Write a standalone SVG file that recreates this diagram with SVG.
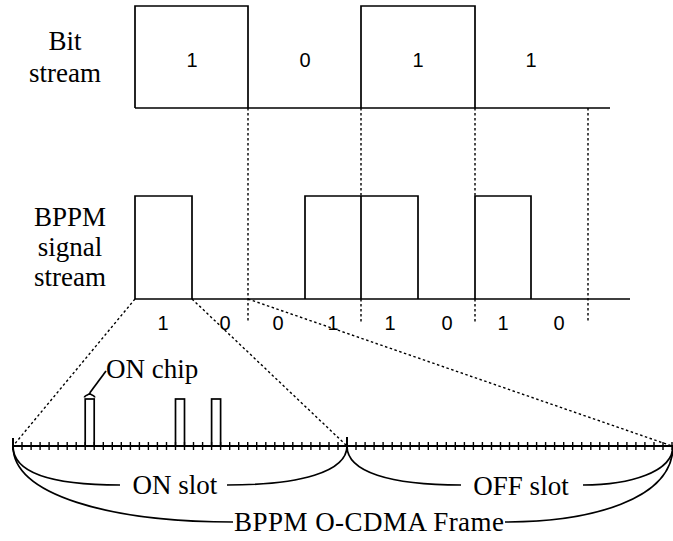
<svg xmlns="http://www.w3.org/2000/svg" width="673" height="541" viewBox="0 0 673 541">
<style>
.sig{fill:none;stroke:#000;stroke-width:1.7;stroke-linejoin:miter}
.dot{fill:none;stroke:#000;stroke-width:1.4;stroke-dasharray:2.5 2.5}
.ax{fill:none;stroke:#000;stroke-width:2}
.tk{fill:none;stroke:#000;stroke-width:1.4}
.br{fill:none;stroke:#000;stroke-width:1.7}
.lbl{font-family:'Liberation Serif','DejaVu Serif',serif;font-size:27px;fill:#000;text-anchor:middle}
.dig{font-family:'Liberation Sans','DejaVu Sans',sans-serif;font-size:20px;fill:#000;text-anchor:middle}
</style>
<rect width="673" height="541" fill="#fff"/>
<g id="labels">
<text class="lbl" x="65" y="50">Bit</text>
<text class="lbl" x="65" y="82">stream</text>
<text class="lbl" x="70" y="226">BPPM</text>
<text class="lbl" x="70" y="256">signal</text>
<text class="lbl" x="70" y="286">stream</text>
</g>
<g id="bit-stream">
<path class="sig" d="M135,108 H610 M135,108 V6 H248 V108 M361,108 V6 H475 V108"/>
<text class="dig" x="192" y="67">1</text>
<text class="dig" x="305" y="67">0</text>
<text class="dig" x="418" y="67">1</text>
<text class="dig" x="531" y="67">1</text>
</g>
<g id="bppm-stream">
<path class="sig" d="M135,299 H630 M135,299 V196 H192 V299 M305,299 V196 H418 V299 M361,196 V299 M475,299 V196 H531 V299"/>
<text class="dig" x="163" y="330">1</text>
<text class="dig" x="225" y="330">0</text>
<text class="dig" x="278" y="330">0</text>
<text class="dig" x="333" y="330">1</text>
<text class="dig" x="390" y="330">1</text>
<text class="dig" x="447" y="330">0</text>
<text class="dig" x="503" y="330">1</text>
<text class="dig" x="559" y="330">0</text>
</g>
<g id="frame">
<path class="ax" d="M13,446 H673"/>
<path class="tk" d="M22,442v8M31.1,442v8M40.1,442v8M49.1,442v8M58.1,442v8M67.2,442v8M76.2,442v8M85.2,442v8M94.2,442v8M103.3,442v8M112.3,442v8M121.3,442v8M130.4,442v8M139.4,442v8M148.4,442v8M157.4,442v8M166.5,442v8M175.5,442v8M184.5,442v8M193.5,442v8M202.6,442v8M211.6,442v8M220.6,442v8M229.7,442v8M238.7,442v8M247.7,442v8M256.7,442v8M265.8,442v8M274.8,442v8M283.8,442v8M292.8,442v8M301.9,442v8M310.9,442v8M319.9,442v8M329,442v8M338,442v8M356,442v8M365.1,442v8M374.1,442v8M383.1,442v8M392.2,442v8M401.2,442v8M410.2,442v8M419.2,442v8M428.3,442v8M437.3,442v8M446.3,442v8M455.3,442v8M464.4,442v8M473.4,442v8M482.4,442v8M491.5,442v8M500.5,442v8M509.5,442v8M518.5,442v8M527.6,442v8M536.6,442v8M545.6,442v8M554.6,442v8M563.7,442v8M572.7,442v8M581.7,442v8M590.8,442v8M599.8,442v8M608.8,442v8M617.8,442v8M626.9,442v8M635.9,442v8M644.9,442v8M654,442v8M663,442v8M672,442v8"/>
<path class="ax" d="M13,438 V450 M347,437 V452"/>
</g>
<g id="chips">
<rect class="sig" x="85.2" y="399" width="9" height="47"/>
<rect class="sig" x="175.5" y="399" width="9" height="47"/>
<rect class="sig" x="211.6" y="399" width="9" height="47"/>
</g>
<g id="on-chip-label">
<path class="br" stroke-width="1.3" d="M84.5,397.5 C84.5,394.5 89.7,395.5 89.7,393 C89.7,395.5 94.7,394.5 94.7,397.5"/>
<path class="br" stroke-width="1.3" d="M89.7,393 L106,371"/>
<text class="lbl" x="106" y="378" style="text-anchor:start">ON chip</text>
</g>
<g id="braces">
<path class="br" d="M13,446 C13,472 50,485 120,485 M227,485 C300,485 347,472 347,446"/>
<text class="lbl" x="175" y="494">ON slot</text>
<path class="br" d="M347,446 C347,472 390,485 461,485 M583,485 C630,485 673,472 673,446"/>
<text class="lbl" x="521" y="495">OFF slot</text>
<path class="br" d="M13,446 C13,495 110,522 233,522 M505,522 C590,522 673,500 673,446"/>
<text class="lbl" x="369" y="531" textLength="270" lengthAdjust="spacing">BPPM O-CDMA Frame</text>
</g>
<g id="connectors">
<path class="dot" d="M248,108 V322 M361,108 V196 M361,299 V322 M475,108 V196 M475,299 V322 M588,108 V322"/>
<path class="dot" d="M135,299 L13,446 M192,299 L347,446 M248,299 L672,446"/>
</g>
</svg>
